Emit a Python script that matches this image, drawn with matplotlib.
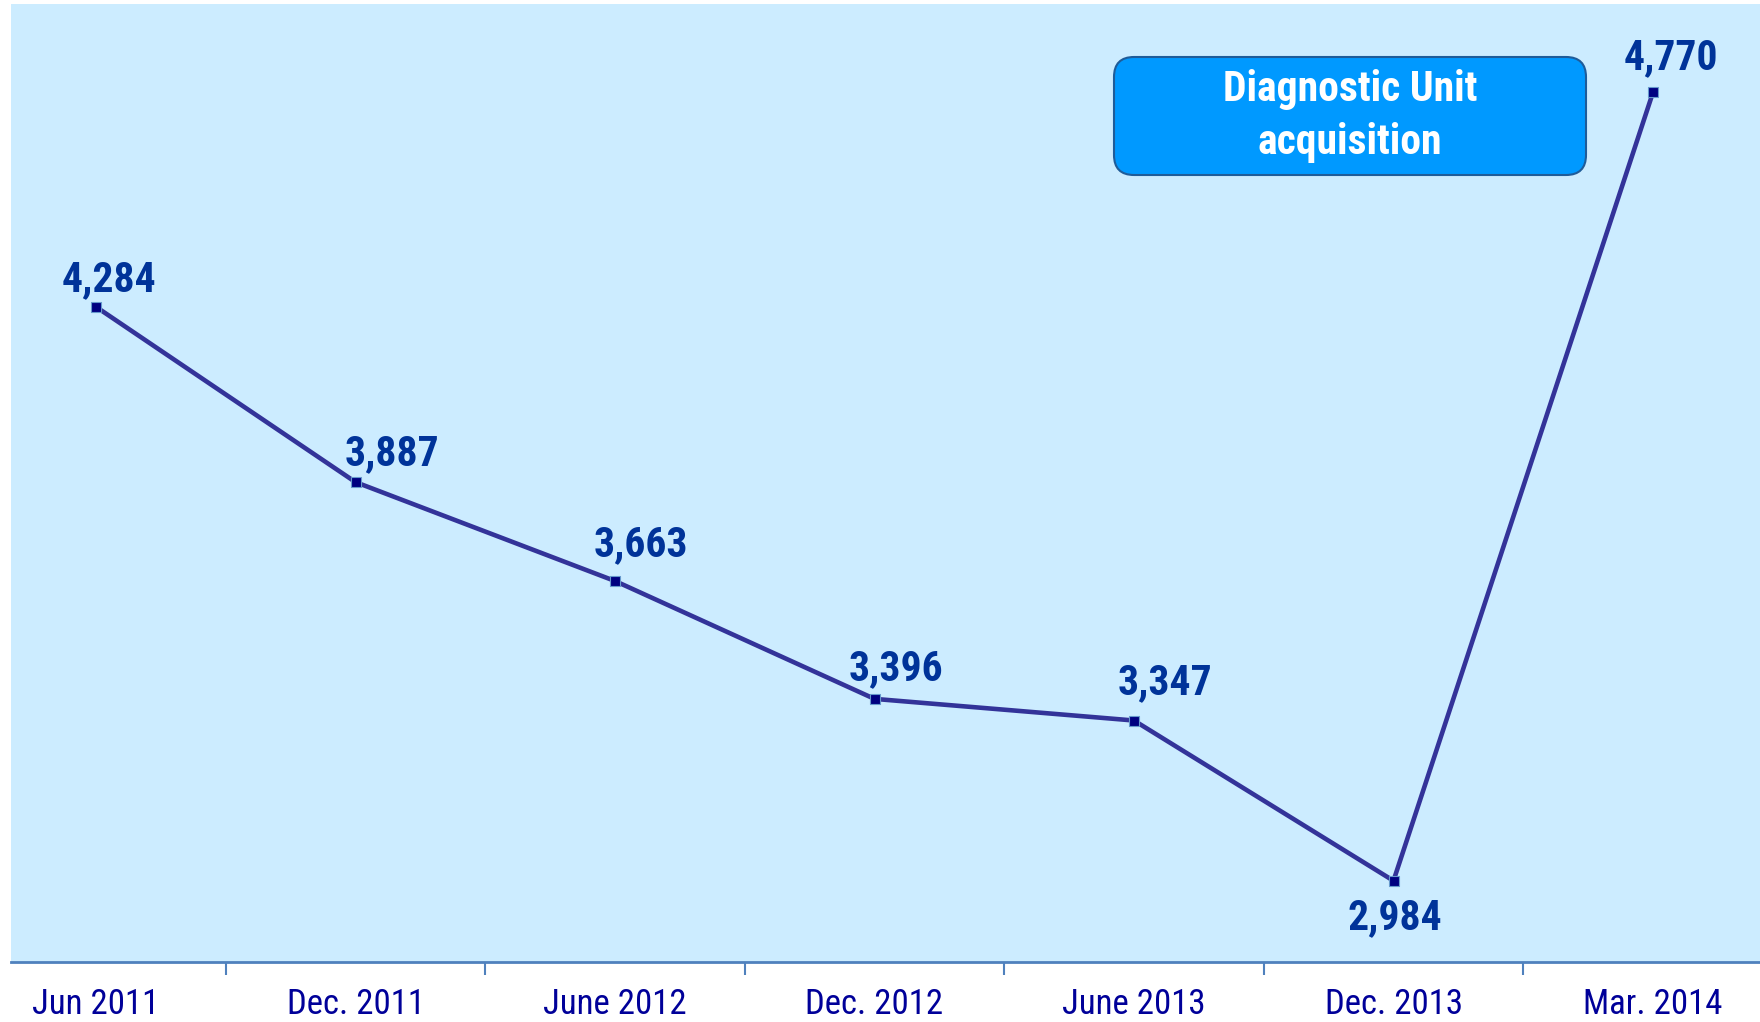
import matplotlib
matplotlib.use("Agg")
import matplotlib.pyplot as plt
from matplotlib.patches import FancyBboxPatch

categories = ["Jun 2011", "Dec. 2011", "June 2012", "Dec. 2012", "June 2013", "Dec. 2013", "Mar. 2014"]
values = [4284, 3887, 3663, 3396, 3347, 2984, 4770]
value_labels = ["4,284", "3,887", "3,663", "3,396", "3,347", "2,984", "4,770"]
box_text = "Diagnostic Unit\nacquisition"

# label offsets in pixels (layout only)
label_offsets = [(13, 27), (36, 28), (26, 36), (21, 30), (31, 38), (1, -37), (18, 35)]

FONT = ["Roboto Condensed", "Liberation Sans", "DejaVu Sans"]

W, H = 1760, 1022
fig = plt.figure(figsize=(W / 100, H / 100), dpi=100, facecolor="white")
left_px, right_px, top_px, bottom_px = 11, 1760, 4, 962
ax = fig.add_axes([left_px / W, 1 - bottom_px / H, (right_px - left_px) / W, (bottom_px - top_px) / H])
ax.set_facecolor("#CCECFF")

x = list(range(len(categories)))
ax.plot(x, values, color="#333399", lw=3.3, marker="s", markersize=6.5,
        markerfacecolor="#000080", markeredgecolor="#6699CC", markeredgewidth=0.8, zorder=3)

# x limits: category spacing 259.5 px, first center at 96 px
sp = 259.5
c0 = 96
ax.set_xlim((left_px - c0) / sp, (right_px - c0) / sp)
ax.set_ylim(2800, 4970)

for xi, v, lab, (dx, dy) in zip(x, values, value_labels, label_offsets):
    ax.annotate(lab, (xi, v), xytext=(dx, dy), textcoords="offset pixels",
                ha="center", va="center", fontsize=30, fontweight="bold",
                color="#003399", family=FONT, zorder=4)

for s in ["top", "right", "left"]:
    ax.spines[s].set_visible(False)
ax.spines["bottom"].set_color("#4F81BD")
ax.spines["bottom"].set_linewidth(2.0)
ax.set_yticks([])
ax.set_xticks(x)
ax.set_xticklabels(categories, fontsize=25, color="#000099", family=FONT)
ax.tick_params(axis="x", which="major", length=0, pad=19)
ax.set_xticks([i + 0.5 for i in x[:-1]], minor=True)
ax.tick_params(axis="x", which="minor", length=9, width=1.5, color="#4F81BD", direction="out")

# annotation box
bx0, bx1, by0, by1 = 1114, 1586, 57, 175
box = FancyBboxPatch((bx0 / 100, (H - by1) / 100), (bx1 - bx0) / 100, (by1 - by0) / 100,
                     boxstyle="round,pad=0,rounding_size=0.2",
                     transform=fig.dpi_scale_trans, facecolor="#0099FF",
                     edgecolor="#1F5C99", linewidth=1.5, zorder=5)
fig.add_artist(box)
fig.text((bx0 + bx1) / 2 / W, 1 - (by0 + by1) / 2 / H, box_text, ha="center", va="center",
         fontsize=30, fontweight="bold", color="white", family=FONT, linespacing=1.35, zorder=6)

fig.savefig("out.png", dpi=100, facecolor="white")
